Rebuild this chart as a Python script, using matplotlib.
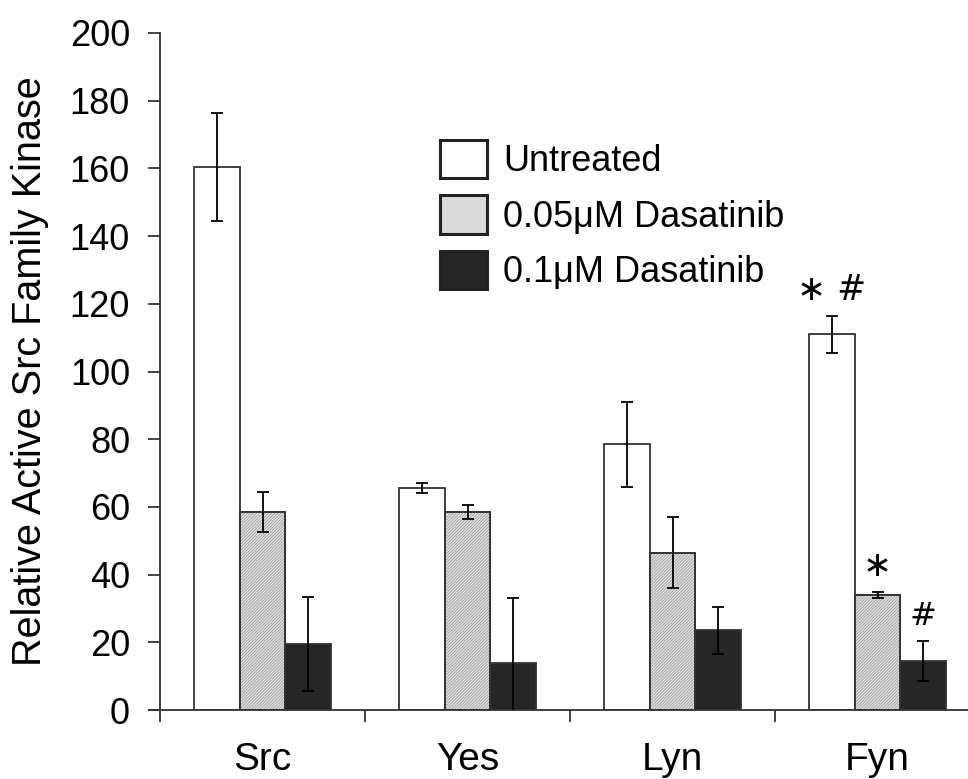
import numpy as np
import matplotlib
matplotlib.use("Agg")
import matplotlib.pyplot as plt
from matplotlib.patches import Patch

plt.rcParams['font.family'] = ['Liberation Sans', 'DejaVu Sans']

kinases = ["Src", "Yes", "Lyn", "Fyn"]
series = ["Untreated", "0.05\u03bcM Dasatinib", "0.1\u03bcM Dasatinib"]
untreated = [160.5, 65.5, 78.5, 111.0]
untreated_err = [16.0, 1.5, 12.5, 5.5]
dasa_005 = [58.5, 58.5, 46.5, 34.0]
dasa_005_err = [6.0, 2.2, 10.5, 1.0]
dasa_01 = [19.5, 14.0, 23.5, 14.5]
dasa_01_err = [13.8, 19.0, 7.0, 6.0]
yticks = [0, 20, 40, 60, 80, 100, 120, 140, 160, 180, 200]

fig = plt.figure(figsize=(9.68, 7.79), dpi=100)
ax = fig.add_axes([160/968, 69/779, 820/968, 677/779])

w = 0.222
x = np.arange(len(kinases)) + 0.5
edge = "#333333"
ekw = dict(ecolor="black", elinewidth=1.3, capsize=4.5, capthick=1.3)

ax.bar(x - w, untreated, w, color="white", edgecolor=edge, linewidth=1.3,
       yerr=untreated_err, error_kw=ekw, zorder=2)
ax.bar(x, dasa_005, w, color="#e4e4e4", edgecolor=edge, linewidth=1.3, zorder=2)
# fine diagonal hatching over the light grey bars
plt.rcParams['hatch.linewidth'] = 0.6
ax.bar(x, dasa_005, w, color="none", edgecolor="#9c9c9c", hatch="/"*11,
       linewidth=0, zorder=2.5)
ax.bar(x, dasa_005, w, color="none", edgecolor=edge, linewidth=1.3,
       yerr=dasa_005_err, error_kw=ekw, zorder=3)
ax.bar(x + w, dasa_01, w, color="#262626", edgecolor=edge, linewidth=1.3,
       yerr=dasa_01_err, error_kw=ekw, zorder=3)

# significance marks for Fyn
i = 3
ax.text(x[i] - w, untreated[i] + untreated_err[i] + 2.5, "\u2217 #", ha="center",
        va="bottom", fontsize=25, family=['DejaVu Sans'])
ax.text(x[i], dasa_005[i] + dasa_005_err[i] + 2.5, "\u2217", ha="center",
        va="bottom", fontsize=25, family=['DejaVu Sans'])
ax.text(x[i] + w, dasa_01[i] + dasa_01_err[i] + 2.5, "#", ha="center",
        va="bottom", fontsize=23, family=['DejaVu Sans'])

ax.set_xlim(0, 4)
ax.set_ylim(0, 200)
ax.set_yticks(yticks)
ax.set_yticklabels([str(t) for t in yticks], fontsize=26)
ax.set_xticks([0, 1, 2, 3, 4])
ax.set_xticklabels([])
ax.set_xticks(x, minor=True)
ax.set_xticklabels(kinases, minor=True, fontsize=28)
ax.tick_params(axis="x", which="minor", length=0, pad=23)
ax.tick_params(axis="both", which="major", direction="out", length=8.6,
               width=1.3, color=edge)
ax.tick_params(axis="y", pad=13)

for s in ["top", "right"]:
    ax.spines[s].set_visible(False)
for s in ["left", "bottom"]:
    ax.spines[s].set_linewidth(1.3)
    ax.spines[s].set_color(edge)
ax.spines["bottom"].set_bounds(-0.054, 4)

ax.set_ylabel("Relative Active Src Family Kinase", fontsize=28.5, labelpad=15)

handles = [Patch(facecolor="white", edgecolor="#222222", linewidth=2.2),
           Patch(facecolor="#d9d9d9", edgecolor="#222222", linewidth=2.2),
           Patch(facecolor="#262626", edgecolor="#222222", linewidth=2.2)]
fig.legend(handles, series, loc="upper left", bbox_to_anchor=(440/968, 1 - 140/779),
           frameon=False, fontsize=26, handlelength=1.3, handleheight=1.25,
           handletextpad=0.45, labelspacing=0.45, borderpad=0, borderaxespad=0)

fig.savefig("out.png", dpi=100)
